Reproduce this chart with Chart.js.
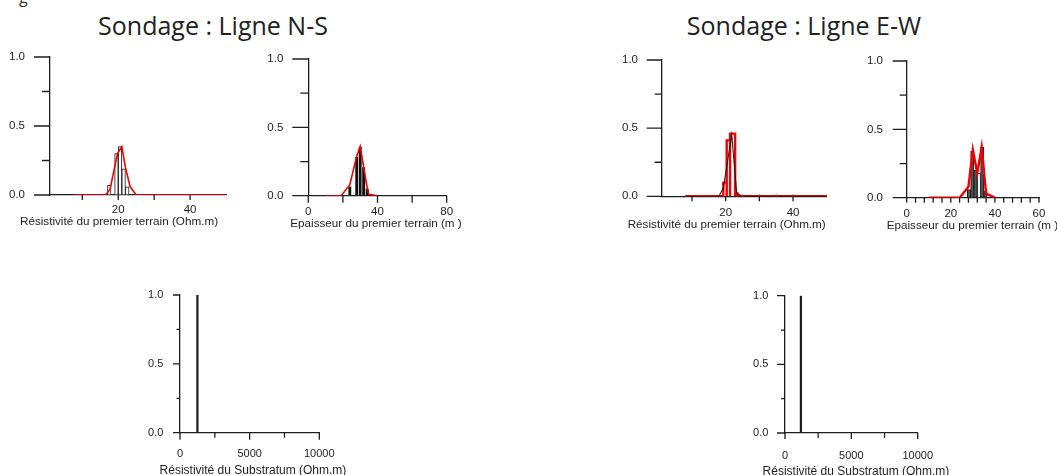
<!DOCTYPE html>
<html lang="fr">
<head>
<meta charset="utf-8">
<title>Sondage : lignes N-S et E-W</title>
<script src="https://cdn.jsdelivr.net/npm/chart.js@4.4.1/dist/chart.umd.min.js"></script>
<style>
  html, body { margin: 0; padding: 0; background: #fff; }
  #page { position: relative; width: 1057px; height: 475px; overflow: hidden; background: #fff; }
  canvas { position: absolute; }
  .heading {
    position: absolute; width: 400px; text-align: center; white-space: nowrap;
    font-family: 'Open Sans', 'Noto Sans', sans-serif; font-size: 25px; line-height: 30px; color: #222;
  }
  .stray { position: absolute; font-family: 'Open Sans', sans-serif; font-size: 16px; line-height: 16px; color: #333; }
</style>
</head>
<body>
<div id="page">
  <div class="stray" style="left:19px; top:-11px;">g</div>
  <div class="heading" style="left:13px; top:10px;">Sondage : Ligne N-S</div>
  <div class="heading" style="left:604px; top:10px;">Sondage : Ligne E-W</div>

  <canvas id="c-ns-rho" width="236" height="195" style="left:0px; top:40px;"></canvas>
  <canvas id="c-ns-thk" width="212" height="196" style="left:250px; top:40px;"></canvas>
  <canvas id="c-ew-rho" width="237" height="197" style="left:600px; top:40px;"></canvas>
  <canvas id="c-ew-thk" width="207" height="198" style="left:850px; top:40px;"></canvas>
  <canvas id="c-ns-sub" width="230" height="195" style="left:130px; top:280px;"></canvas>
  <canvas id="c-ew-sub" width="230" height="195" style="left:730px; top:280px;"></canvas>
</div>
<script>
// ---------- Ligne N-S : résistivité du premier terrain ----------
const nsRhoBinX = [17.5, 19.5, 20.5, 21.5, 22.5];
const nsRhoBinY = [0.07, 0.30, 0.35, 0.19, 0.06];
const nsRhoFitX = [8, 10, 12, 14, 16, 16.5, 17.7, 19.8, 21, 22, 23.3, 25, 30, 35, 40, 45, 50];
const nsRhoFitY = [0, 0, 0, 0, 0, 0, 0.04, 0.30, 0.35, 0.20, 0.06, 0, 0, 0, 0, 0, 0];

// ---------- Ligne N-S : épaisseur du premier terrain ----------
const nsThkBinX = [24, 28, 30, 32, 34, 36];
const nsThkBinY = [0.07, 0.285, 0.36, 0.21, 0.055, 0.01];
const nsThkFitX = [10, 15, 19, 24, 28, 30, 32, 34, 35, 40];
const nsThkFitY = [0, 0, 0, 0.08, 0.29, 0.36, 0.21, 0.06, 0.01, 0];

// ---------- Ligne E-W : résistivité du premier terrain ----------
const ewRhoEdges   = [19.3, 20.3, 21.3, 22.8, 23.5];
const ewRhoHeights = [0.10, 0.41, 0.46, 0.02];
const ewRhoFlatLeft  = [8, 10, 12, 14, 16, 18];
const ewRhoFlatRight = [25, 30, 35, 40, 50];
const ewRhoDotX = [25, 30, 35, 40, 50];
const ewRhoFitX = [18, 19.3, 21.8, 23.3, 25, 50];
const ewRhoFitY = [0, 0.06, 0.45, 0.02, 0, 0];

// ---------- Ligne E-W : épaisseur du premier terrain ----------
const ewThkBinX = [28.25, 29.75, 31.25, 32.75, 34.25, 35.75];
const ewThkBinY = [0.06, 0.34, 0.20, 0.18, 0.37, 0.05];
const ewThkFitX = [10, 24, 28, 30, 32, 34, 36, 40];
const ewThkFitY = [0, 0, 0.08, 0.35, 0.18, 0.37, 0.03, 0];

// ---------- Résistivité du substratum ----------
const nsSubX = [1250];
const nsSubY = [1.0];
const ewSubX = [1200];
const ewSubY = [1.0];

// ---------- Graduations ----------
const probTicks   = [0, 0.25, 0.5, 0.75, 1];
const probLabels  = [0, 0.5, 1];
const rhoTicks    = [10, 20, 30, 40];
const rhoLabels   = [20, 40];
const nsThkTicks  = [0, 20, 40, 60, 80];
const nsThkLabels = [0, 40, 80];
const ewThkTicks  = [0, 4, 8, 12, 16, 20, 24, 28, 32, 36, 40, 44, 48, 52, 56, 60];
const ewThkLabels = [0, 20, 40, 60];
const subTicks    = [0, 2500, 5000, 7500, 10000];
const subLabels   = [0, 5000, 10000];

const RED = 'rgb(236,0,0)';
const INK = '#1e1e1e';
const FONT = "'Liberation Sans', Arial, sans-serif";
Chart.defaults.font.family = FONT;

const pts = (xs, ys) => xs.map((x, i) => ({ x, y: ys[i] }));
const onAxis = xs => xs.map(x => ({ x, y: 0 }));
// closed outline of each histogram class (returns to zero at every edge)
function outline(edges, heights) {
  const out = [];
  heights.forEach((h, i) => {
    out.push({ x: edges[i], y: 0 }, { x: edges[i], y: h }, { x: edges[i + 1], y: h }, { x: edges[i + 1], y: 0 });
  });
  return out;
}

// tick marks (long for labelled values, short otherwise) and the axis caption
function decor(s) {
  return {
    id: 'decor',
    afterDraw(chart) {
      const { ctx, chartArea: a } = chart;
      const xs = chart.scales.x, ys = chart.scales.y;
      ctx.save();
      ctx.strokeStyle = INK;
      ctx.lineWidth = 1.3;
      ctx.beginPath();
      probTicks.forEach(v => {
        const p = ys.getPixelForValue(v);
        const len = probLabels.includes(v) ? s.yLen[0] : s.yLen[1];
        ctx.moveTo(a.left, p); ctx.lineTo(a.left - len, p);
      });
      s.xTicks.forEach(v => {
        const p = xs.getPixelForValue(v);
        const len = s.xLabels.includes(v) ? s.xLen[0] : s.xLen[1];
        ctx.moveTo(p, a.bottom); ctx.lineTo(p, a.bottom + len);
      });
      ctx.stroke();
      ctx.fillStyle = INK;
      ctx.font = s.capSize + 'px ' + FONT;
      ctx.textAlign = 'center';
      ctx.textBaseline = 'middle';
      ctx.fillText(s.caption, (a.left + a.right) / 2 + s.capDx, a.bottom + s.capDy);
      ctx.restore();
    }
  };
}

// invisible tick marks only reserve the gap between axis and labels
const gapGrid = len => ({
  display: true, drawOnChartArea: false, drawTicks: true,
  tickLength: len, tickColor: 'rgba(0,0,0,0)'
});

function draw(s) {
  return new Chart(document.getElementById(s.id), {
    type: 'line',
    data: { datasets: s.datasets },
    options: {
      responsive: false,
      animation: false,
      devicePixelRatio: 1,
      events: [],
      layout: { padding: s.pad },
      plugins: { legend: { display: false }, tooltip: { enabled: false }, title: { display: false } },
      scales: {
        x: {
          type: 'linear', min: s.xMin, max: s.xMax, offset: false,
          grid: gapGrid(s.xPad),
          border: { display: true, color: INK, width: 1.3 },
          afterBuildTicks: sc => { sc.ticks = s.xTicks.map(v => ({ value: v })); },
          afterFit: sc => { sc.height = s.xH; },
          ticks: {
            autoSkip: false, maxRotation: 0, padding: 0, color: INK,
            font: { size: s.tickSize },
            callback: v => (s.xLabels.includes(v) ? String(v) : '')
          }
        },
        y: {
          type: 'linear', min: 0, max: 1,
          grid: gapGrid(s.yPad),
          border: { display: true, color: INK, width: 1.3 },
          afterBuildTicks: sc => { sc.ticks = probTicks.map(v => ({ value: v })); },
          afterFit: sc => { sc.width = s.yW; },
          ticks: {
            autoSkip: false, padding: 0, color: INK,
            font: { size: s.tickSize },
            callback: v => (probLabels.includes(v) ? v.toFixed(1) : '')
          }
        }
      }
    },
    plugins: [decor(s)]
  });
}

const barStyle = { type: 'bar', categoryPercentage: 1, barPercentage: 1 };

draw({
  id: 'c-ns-rho', xMin: 1, xMax: 50, xTicks: rhoTicks, xLabels: rhoLabels,
  yW: 50, xH: 40, pad: { left: 0, top: 17, right: 10, bottom: 0 },
  xPad: 8.4, yPad: 25, yLen: [16, 8], xLen: [5, 5], tickSize: 11.5, capSize: 11.7,
  caption: 'Résistivité du premier terrain (Ohm.m)', capDx: -19, capDy: 27,
  datasets: [
    { type: 'line', data: pts(nsRhoFitX, nsRhoFitY), borderColor: RED, borderWidth: 1.6, pointRadius: 0, order: 0 },
    { ...barStyle, data: pts(nsRhoBinX, nsRhoBinY), backgroundColor: '#fff', borderColor: INK, borderWidth: 1, order: 1 }
  ]
});

draw({
  id: 'c-ns-thk', xMin: 0, xMax: 80, xTicks: nsThkTicks, xLabels: nsThkLabels,
  yW: 58.3, xH: 40.3, pad: { left: 0, top: 19, right: 15.3, bottom: 0 },
  xPad: 9.4, yPad: 25, yLen: [16, 8], xLen: [7, 7], tickSize: 11.5, capSize: 11.7,
  caption: 'Epaisseur du premier terrain (m )', capDx: -1.5, capDy: 27.6,
  datasets: [
    { type: 'line', data: pts(nsThkFitX, nsThkFitY), borderColor: RED, borderWidth: 1.6, pointRadius: 0, order: 0 },
    { ...barStyle, data: pts(nsThkBinX, nsThkBinY), backgroundColor: '#111', borderColor: '#fff', borderWidth: 0.6, order: 1 }
  ]
});

draw({
  id: 'c-ew-rho', xMin: 1, xMax: 50, xTicks: rhoTicks, xLabels: rhoLabels,
  yW: 61.7, xH: 40.7, pad: { left: 0, top: 20, right: 10.3, bottom: 0 },
  xPad: 9.8, yPad: 23.7, yLen: [15, 7], xLen: [5, 5], tickSize: 11.5, capSize: 11.7,
  caption: 'Résistivité du premier terrain (Ohm.m)', capDx: -17.5, capDy: 28,
  datasets: [
    { type: 'line', data: onAxis(ewRhoDotX), showLine: false, pointRadius: 1.8, pointBorderWidth: 0, pointBackgroundColor: RED, order: 0 },
    { type: 'line', data: pts(ewRhoFitX, ewRhoFitY), borderColor: INK, borderWidth: 1.1, pointRadius: 0, order: 1 },
    { type: 'line', data: [...onAxis(ewRhoFlatLeft), ...outline(ewRhoEdges, ewRhoHeights), ...onAxis(ewRhoFlatRight)],
      borderColor: RED, borderWidth: 2.4, pointRadius: 0, order: 2 }
  ]
});

draw({
  id: 'c-ew-thk', xMin: 0, xMax: 60, xTicks: ewThkTicks, xLabels: ewThkLabels,
  yW: 56.7, xH: 40.3, pad: { left: 0, top: 21, right: 18, bottom: 0 },
  xPad: 9, yPad: 23.7, yLen: [14, 7], xLen: [5, 5], tickSize: 11.5, capSize: 11.7,
  caption: 'Epaisseur du premier terrain (m )', capDx: -0.4, capDy: 28.3,
  datasets: [
    { type: 'line', data: pts(ewThkFitX, ewThkFitY), borderColor: RED, borderWidth: 2.4, pointRadius: 0, order: 0 },
    { ...barStyle, data: pts(ewThkBinX, ewThkBinY),
      backgroundColor: ['#555', '#555', '#555', '#fff', '#555', '#555'], borderColor: INK, borderWidth: 1, order: 1 }
  ]
});

draw({
  id: 'c-ns-sub', xMin: 0, xMax: 10000, xTicks: subTicks, xLabels: subLabels,
  yW: 50, xH: 42.3, pad: { left: 0, top: 15, right: 40.7, bottom: 0 },
  xPad: 14.7, yPad: 16.7, yLen: [7, 3.5], xLen: [7, 5], tickSize: 11, capSize: 12,
  caption: 'Résistivité du Substratum (Ohm.m)', capDx: 3.3, capDy: 38.3,
  datasets: [
    { type: 'bar', data: pts(nsSubX, nsSubY), barThickness: 1.6, backgroundColor: INK, borderWidth: 0 }
  ]
});

draw({
  id: 'c-ew-sub', xMin: 0, xMax: 10000, xTicks: subTicks, xLabels: subLabels,
  yW: 55, xH: 42, pad: { left: 0, top: 15.7, right: 42.3, bottom: 0 },
  xPad: 16.4, yPad: 16.7, yLen: [8, 4], xLen: [6, 5], tickSize: 11, capSize: 12,
  caption: 'Résistivité du Substratum (Ohm.m)', capDx: 4.6, capDy: 38.7,
  datasets: [
    { type: 'bar', data: pts(ewSubX, ewSubY), barThickness: 1.6, backgroundColor: INK, borderWidth: 0 }
  ]
});
</script>
</body>
</html>
